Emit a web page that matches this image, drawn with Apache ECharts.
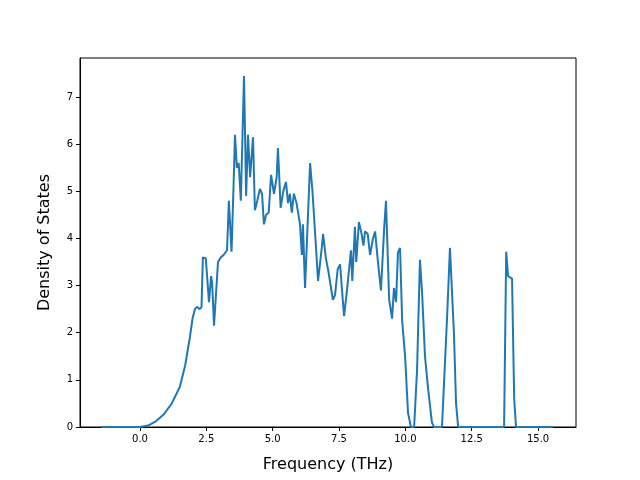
<html>
<head>
<meta charset="utf-8">
<script src="https://cdn.jsdelivr.net/npm/echarts@6/dist/echarts.min.js"></script>
</head>
<body style="margin:0">
<div id="main" style="width:640px;height:480px;"></div>
<script>
var freq = [-1.45,0,0.3,0.6,0.9,1.2,1.5,1.7,1.88,1.98,2.07,2.15,2.25,2.32,2.37,2.48,2.6,2.68,2.72,2.79,2.94,3.05,3.15,3.28,3.35,3.45,3.52,3.58,3.65,3.72,3.8,3.92,4.0,4.07,4.15,4.26,4.33,4.42,4.52,4.6,4.67,4.75,4.85,4.94,5.05,5.15,5.2,5.3,5.4,5.5,5.58,5.65,5.72,5.8,5.9,6.03,6.1,6.14,6.22,6.41,6.5,6.6,6.71,6.85,6.9,7.0,7.1,7.27,7.35,7.45,7.54,7.6,7.69,7.8,7.95,8.0,8.1,8.15,8.25,8.35,8.42,8.48,8.58,8.67,8.78,8.86,8.95,9.08,9.2,9.27,9.39,9.5,9.57,9.65,9.72,9.8,9.88,9.99,10.1,10.21,10.33,10.44,10.55,10.63,10.74,10.86,11.0,11.08,11.38,11.57,11.68,11.83,11.91,11.99,13.72,13.8,13.87,14.02,14.1,14.17,15.57];
var dos = [0,0,0.03,0.12,0.27,0.5,0.85,1.3,1.9,2.3,2.5,2.55,2.5,2.55,3.6,3.58,2.65,3.2,3.05,2.15,3.5,3.6,3.65,3.75,4.8,3.72,5.0,6.2,5.5,5.6,4.8,7.45,4.9,6.2,5.3,6.15,4.6,4.8,5.05,4.95,4.3,4.5,4.55,5.35,4.95,5.3,5.92,4.65,5.0,5.2,4.75,4.95,4.55,4.95,4.75,4.3,3.65,4.3,2.95,5.6,5.0,4.1,3.1,3.8,4.1,3.6,3.3,2.7,2.8,3.35,3.45,3.0,2.35,2.9,3.75,3.1,4.25,3.5,4.35,4.1,3.85,4.15,4.1,3.65,4.0,4.15,3.6,2.9,4.2,4.8,2.7,2.3,2.95,2.65,3.7,3.8,2.25,1.5,0.3,0,0,1.2,3.55,2.85,1.5,0.8,0.1,0,0,2.3,3.8,2.0,0.5,0,0,3.72,3.2,3.15,0.6,0,0];
var xTicks = [0,2.5,5,7.5,10,12.5,15];

var points = freq.map(function (f, i) { return [f, dos[i]]; });
var font = 'DejaVu Sans';
var myChart = echarts.init(document.getElementById('main'));
myChart.setOption({
    animation: false,
    grid: {left: 80, right: 64, top: 58, bottom: 53},
    xAxis: {
        type: 'value', min: -2.26, max: 16.43,
        name: 'Frequency (THz)', nameLocation: 'middle', nameGap: 30,
        nameTextStyle: {fontFamily: font, fontSize: 16, color: '#000'},
        axisLine: {onZero: false, lineStyle: {color: '#000'}},
        axisTick: {show: true, customValues: xTicks, length: 4, inside: false, lineStyle: {color: '#000'}},
        axisLabel: {customValues: xTicks, fontFamily: font, fontSize: 10, color: '#000', margin: 7,
            formatter: function (v) { return v.toFixed(1); }},
        splitLine: {show: false}
    },
    yAxis: {
        type: 'value', min: 0, max: 7.83, interval: 1,
        name: 'Density of States', nameLocation: 'middle', nameGap: 27,
        nameTextStyle: {fontFamily: font, fontSize: 16, color: '#000'},
        axisLine: {show: true, onZero: false, lineStyle: {color: '#000'}},
        axisTick: {show: true, inside: false, length: 4, lineStyle: {color: '#000'}},
        axisLabel: {fontFamily: font, fontSize: 10, color: '#000', margin: 7,
            showMaxLabel: false},
        splitLine: {show: false}
    },
    series: [{
        type: 'line', data: points, showSymbol: false,
        lineStyle: {color: '#1f77b4', width: 2}
    }],
    graphic: [{type: 'rect', shape: {x: 80, y: 58, width: 496, height: 369},
        style: {fill: 'none', stroke: '#000', lineWidth: 1}, silent: true}]
});
</script>
</body>
</html>
